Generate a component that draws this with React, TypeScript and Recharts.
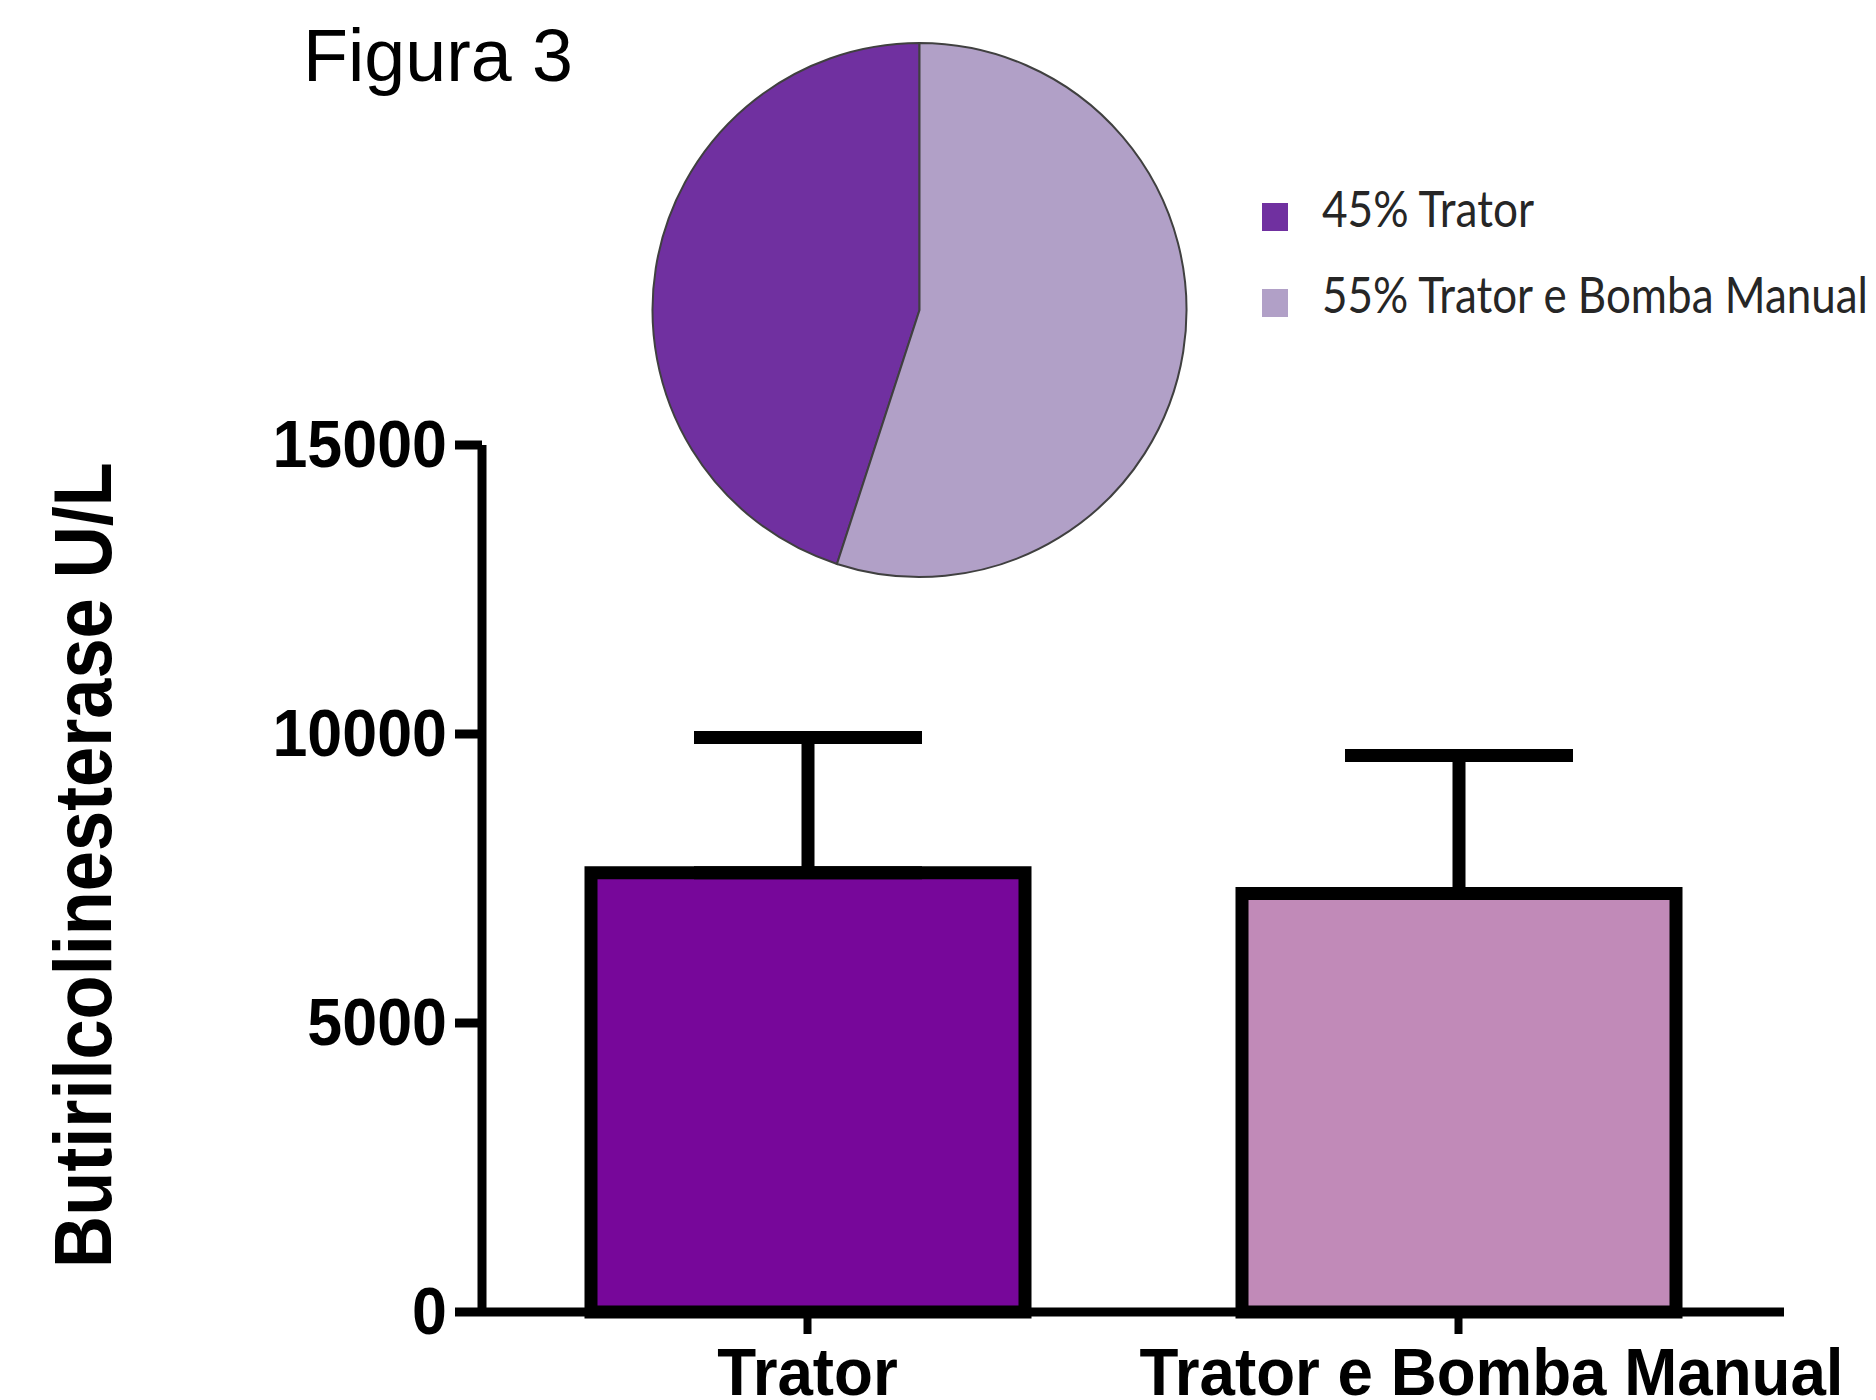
import {
  Bar,
  BarChart,
  Cell,
  ErrorBar,
  Legend,
  Pie,
  PieChart,
  XAxis,
  YAxis,
} from "recharts";

const categories = ["Trator", "Trator e Bomba Manual"];
const means = [7600, 7240];
const sdUpper = [2340, 2390];
const barColors = ["#77079A", "#C18AB8"];
const yTicks = [0, 5000, 10000, 15000];

const pieLabels = ["45% Trator", "55% Trator e Bomba Manual"];
const pieShares = [45, 55];
const pieColors = ["#7030A0", "#B1A0C7"];

const barData = categories.map((name, i) => ({
  name,
  value: means[i],
  err: [0, sdUpper[i]],
}));

const pieData = pieLabels.map((name, i) => ({ name, value: pieShares[i] }));

const ARIAL = "'Liberation Sans', Arial, sans-serif";

// the long category label sits a little right of its tick in the original
const xLabelShift = [0, 33];

function YTick({ x, y, payload }: any) {
  return (
    <g transform={`translate(${x},${y + 22}) scale(0.937,1)`}>
      <text x={0} y={0} textAnchor="end" fontFamily={ARIAL} fontWeight="bold" fontSize={67} fill="#000">
        {payload.value}
      </text>
    </g>
  );
}

function XTick({ x, y, payload, index }: any) {
  const dx = xLabelShift[index] || 0;
  return (
    <g transform={`translate(${x + dx},${y + 61}) scale(0.965,1)`}>
      <text x={0} y={0} textAnchor="middle" fontFamily={ARIAL} fontWeight="bold" fontSize={66} fill="#000">
        {payload.value}
      </text>
    </g>
  );
}

function YLabel() {
  return (
    <g transform="translate(111,865) rotate(-90) scale(0.88,1)">
      <text x={0} y={0} textAnchor="middle" fontFamily={ARIAL} fontWeight="bold" fontSize={82} fill="#000">
        Butirilcolinesterase U/L
      </text>
    </g>
  );
}

function PieLegend({ payload }: any) {
  const widths = [212, 546];
  return (
    <svg width={612} height={140} style={{ display: "block" }}>
      {(payload || []).map((entry: any, i: number) => (
        <g key={entry.value} transform={`translate(0,${i * 86})`}>
          <rect x={0} y={13} width={26} height={28} fill={entry.color} />
          <text
            x={60}
            y={37}
            fontFamily="Lato, 'Open Sans', sans-serif"
            fontSize={50}
            fill="#262626"
            textLength={widths[i]}
            lengthAdjust="spacingAndGlyphs"
          >
            {entry.value}
          </text>
        </g>
      ))}
    </svg>
  );
}

export default function App() {
  return (
    <div
      style={{
        position: "absolute",
        left: 0,
        top: 0,
        width: 1876,
        height: 1400,
        background: "#fff",
        overflow: "hidden",
      }}
    >
      <div style={{ position: "absolute", left: 0, top: 0 }}>
        <BarChart
          width={1876}
          height={1400}
          data={barData}
          margin={{ top: 445, right: 92, bottom: 0, left: 0 }}
        >
          <XAxis
            dataKey="name"
            height={88}
            interval={0}
            axisLine={{ stroke: "#000", strokeWidth: 9 }}
            tickLine={{ stroke: "#000", strokeWidth: 8 }}
            tickSize={22}
            tickMargin={0}
            tick={<XTick />}
          />
          <YAxis
            type="number"
            domain={[0, 15000]}
            ticks={yTicks}
            width={482}
            axisLine={{ stroke: "#000", strokeWidth: 9 }}
            tickLine={{ stroke: "#000", strokeWidth: 9 }}
            tickSize={27}
            tickMargin={8}
            tick={<YTick />}
            label={{ content: () => <YLabel /> }}
          />
          <Bar dataKey="value" barSize={434} stroke="#000" strokeWidth={13} isAnimationActive={false}>
            {barData.map((d, i) => (
              <Cell key={d.name} fill={barColors[i]} />
            ))}
            <ErrorBar
              dataKey="err"
              direction="y"
              width={114}
              stroke="#000"
              strokeWidth={13}
              isAnimationActive={false}
            />
          </Bar>
        </BarChart>
      </div>

      <div style={{ position: "absolute", left: 0, top: 0, pointerEvents: "none" }}>
        <PieChart width={1876} height={660} margin={{ top: 0, right: 0, bottom: 0, left: 0 }}>
          <Pie
            data={pieData}
            dataKey="value"
            nameKey="name"
            cx={919.5}
            cy={310}
            outerRadius={267}
            startAngle={90}
            endAngle={450}
            stroke="#404040"
            strokeWidth={2}
            isAnimationActive={false}
          >
            {pieData.map((d, i) => (
              <Cell key={d.name} fill={pieColors[i]} />
            ))}
          </Pie>
          <Legend
            layout="vertical"
            align="right"
            verticalAlign="middle"
            content={<PieLegend />}
            wrapperStyle={{ left: 1262, top: 190, width: 612, height: 140, right: "auto", bottom: "auto" }}
          />
        </PieChart>
      </div>

      <svg width={700} height={110} style={{ position: "absolute", left: 0, top: 0 }}>
        <text x={303} y={81} fontFamily={ARIAL} fontSize={74} fill="#000" textLength={270} lengthAdjust="spacingAndGlyphs">
          Figura 3
        </text>
      </svg>
    </div>
  );
}
